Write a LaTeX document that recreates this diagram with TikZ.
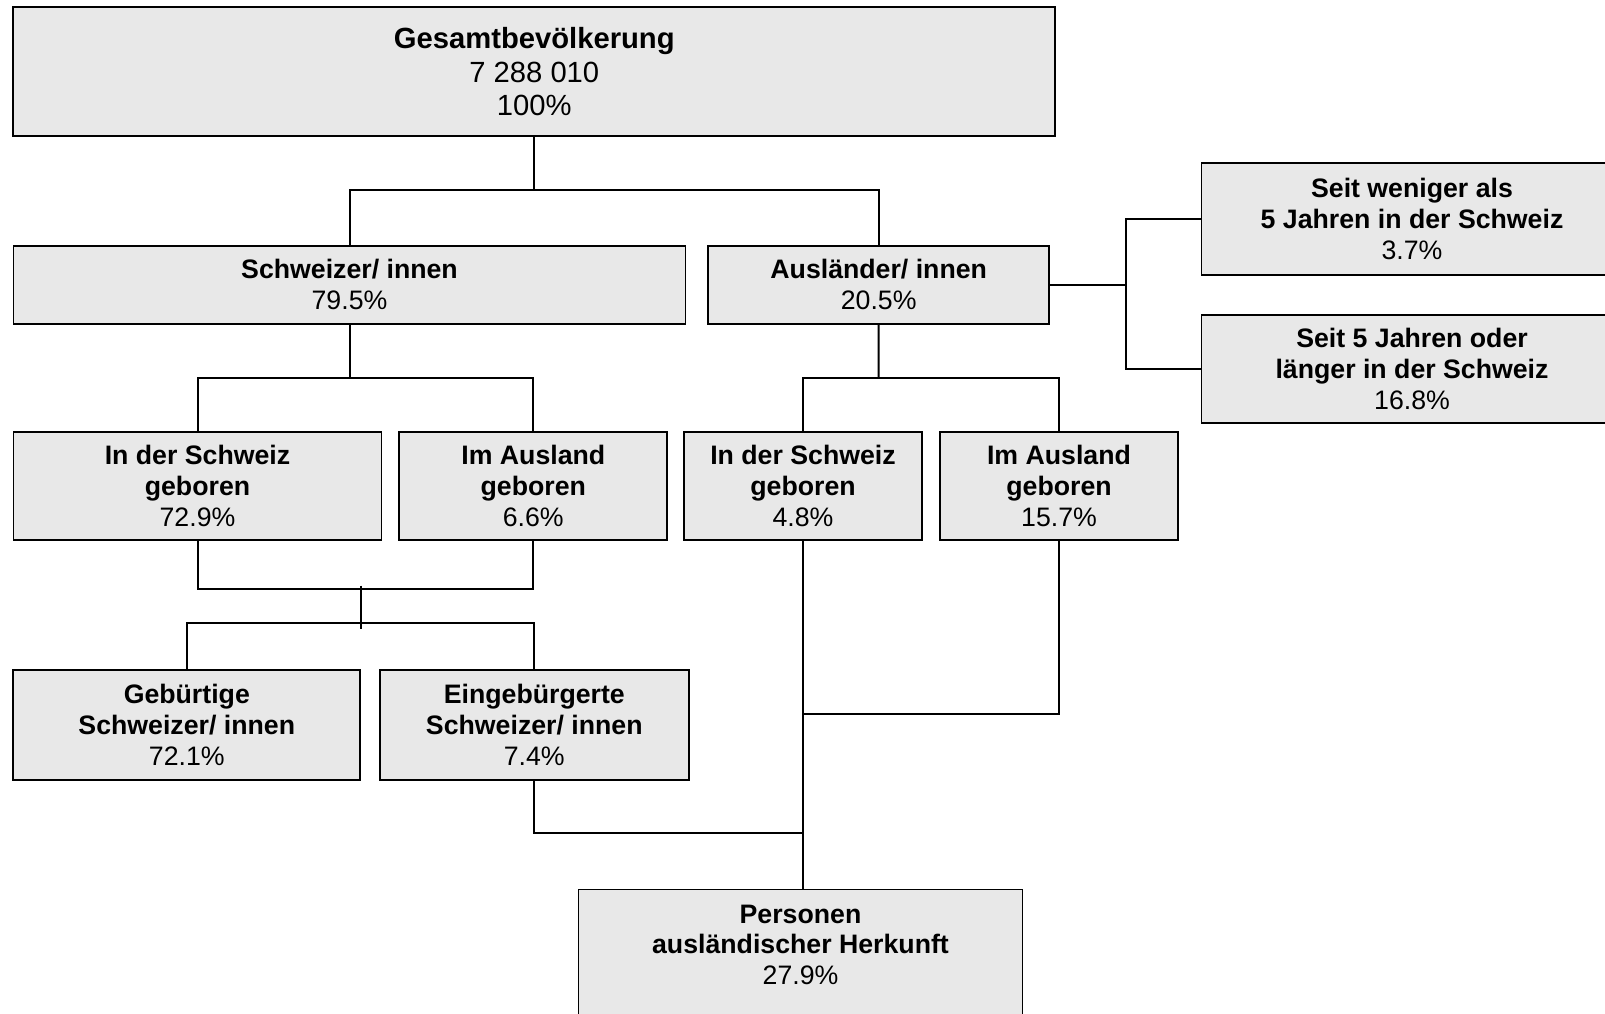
\documentclass[tikz,border=0pt]{standalone}
\usepackage{fontspec}
\setmainfont{Liberation Sans}
\usetikzlibrary{calc}
\definecolor{boxgray}{HTML}{E8E8E8}
\tikzstyle{box}=[draw, line width=0.9pt, fill=boxgray, align=center, inner sep=1pt, font=\fontsize{13.35}{15.35}\selectfont]
\tikzstyle{bigbox}=[box, font=\fontsize{14.6}{16.6}\selectfont]
\tikzstyle{link}=[line width=1pt]

\begin{document}
\begin{tikzpicture}[x=0.5pt,y=-0.5pt]
      \useasboundingbox (0,0) rectangle (1605,1013);
      \node [bigbox, minimum width=521pt, minimum height=64.5pt] (total) at (534.3,71.7) {\textbf{Gesamtbevölkerung}\\ 7 288 010\\ 100\%};

      \node [box, minimum width=336pt, minimum height=39pt] (sch) at (349.5,284.6) {\textbf{Schweizer/ innen}\\ 79.5\%};
      \node [box, minimum width=170.5pt, minimum height=39pt] (aus) [right of=sch, node distance=264.6pt] {\textbf{Ausländer/ innen}\\ 20.5\%};

      \node [box, minimum width=210.5pt, minimum height=56pt] (seit1) at (1412,219) {\textbf{Seit weniger als}\\ \textbf{5 Jahren in der Schweiz}\\ 3.7\%};
      \node [box, minimum width=210.5pt, minimum height=54pt] (seit2) [below of=seit1, node distance=75pt] {\textbf{Seit 5 Jahren oder}\\ \textbf{länger in der Schweiz}\\ 16.8\%};

      \node [box, minimum width=184pt, minimum height=54pt] (chgeb) at (197.5,486) {\textbf{In der Schweiz}\\ \textbf{geboren}\\ 72.9\%};
      \node [box, minimum width=134pt, minimum height=54pt] (chaus) [right of=chgeb, node distance=167.9pt] {\textbf{Im Ausland}\\ \textbf{geboren}\\ 6.6\%};
      \node [box, minimum width=119pt, minimum height=54pt] (augeb) [right of=chaus, node distance=134.85pt] {\textbf{In der Schweiz}\\ \textbf{geboren}\\ 4.8\%};
      \node [box, minimum width=119pt, minimum height=54pt] (auaus) [right of=augeb, node distance=128pt] {\textbf{Im Ausland}\\ \textbf{geboren}\\ 15.7\%};

      \node [box, minimum width=173.5pt, minimum height=55pt] (gebch) at (186.8,725) {\textbf{Gebürtige}\\ \textbf{Schweizer/ innen}\\ 72.1\%};
      \node [box, minimum width=154.5pt, minimum height=55pt] (einb) [right of=gebch, node distance=173.75pt] {\textbf{Eingebürgerte}\\ \textbf{Schweizer/ innen}\\ 7.4\%};

      \node [box, minimum width=222pt, minimum height=75pt, anchor=north] (pers) at (800.5,888.5) {};
      \node [align=center, inner sep=0pt, anchor=north, font=\fontsize{13.35}{15.35}\selectfont] (perstxt) at ($(pers.north)+(0,16)$) {\textbf{Personen}\\ \textbf{ausländischer Herkunft}\\ 27.9\%};

      % junctions
      \coordinate (j1) at (534.3,190.4);
      \coordinate (j2) at (1126,284.6);
      \coordinate (j3) at (349.5,377.7);
      \coordinate (j4) at (878.7,377.7);
      \coordinate (j5) at (360.5,588.6);
      \coordinate (j6) at (360.5,622.7);
      \coordinate (j7) at (803,833.2);
      \coordinate (j8) at (803,713.5);

      \draw[link] (total) -- (j1);
      \draw[link] (sch.north) |- (j1) -| (aus.north);
      \draw[link] (aus.east) -- (j2);
      \draw[link] (seit1.west) -| (j2) |- (seit2.west);
      \draw[link] (sch) -- (j3);
      \draw[link] (chgeb.north) |- (j3) -| (chaus.north);
      \draw[link] (aus) -- (j4);
      \draw[link] (augeb.north) |- (j4) -| (auaus.north);
      \draw[link] (chgeb.south) |- (j5) -| (chaus.south);
      \draw[link] ($(j5)+(0,-3)$) -- ($(j6)+(0,6)$);
      \draw[link] (gebch.north) |- (j6) -| (einb.north);
      \draw[link] (einb.south) |- (j7);
      \draw[link] (auaus.south) |- (j8);
      \draw[link] (augeb.south) -- (augeb.south |- pers.north);
\end{tikzpicture}
\end{document}
